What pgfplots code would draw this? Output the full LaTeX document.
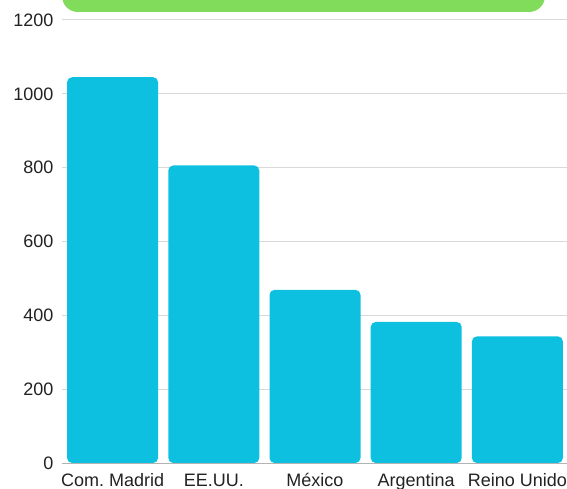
\documentclass[border=0pt]{standalone}
\usepackage{fontspec}
\setmainfont{Liberation Sans}
\usepackage{pgfplots}
\pgfplotsset{compat=1.18}
\definecolor{barcyan}{HTML}{0EC0DF}
\definecolor{boxgreen}{HTML}{80DC5A}
\definecolor{gridgray}{HTML}{D9D9D9}
\definecolor{basegray}{HTML}{B3B3B3}
\definecolor{labelcol}{HTML}{222222}
\begin{document}
\frenchspacing
\begin{tikzpicture}[x=1pt,y=1pt]
% green title box, cut at the top edge
\fill[boxgreen, rounded corners=16pt] (62,476) rectangle (545,520);
\begin{axis}[
    at={(62pt,25pt)}, anchor=south west,
    scale only axis,
    width=506pt, height=443pt,
    xmin=-0.5, xmax=4.5,
    ymin=0, ymax=1200,
    ytick={0,200,...,1200},
    xtick=data,
    xticklabels={Com. Madrid, EE.UU., México, Argentina, Reino Unido},
    major tick length=0pt,
    ymajorgrids,
    grid style={gridgray, line width=1pt},
    axis line style={draw=none},
    axis x line*=bottom,
    axis y line*=left,
    ticklabel style={font=\fontsize{18}{21}\selectfont, text=labelcol},
    yticklabel style={xshift=-5pt},
    xticklabel style={anchor=base, yshift=-23pt},
    /pgf/number format/assume math mode=true,
    /pgf/number format/1000 sep={},
    clip=false,
]
\addplot[ybar, bar width=91pt, fill=barcyan, draw=none, rounded corners=5pt]
    coordinates {(0,1045) (1,806) (2,469) (3,382) (4,343)};
\draw[basegray, line width=1pt] (axis cs:-0.5,0) -- (axis cs:4.5,0);
\end{axis}
\pgfresetboundingbox
\path[use as bounding box] (0,0) rectangle (567,488);
\end{tikzpicture}
\end{document}
